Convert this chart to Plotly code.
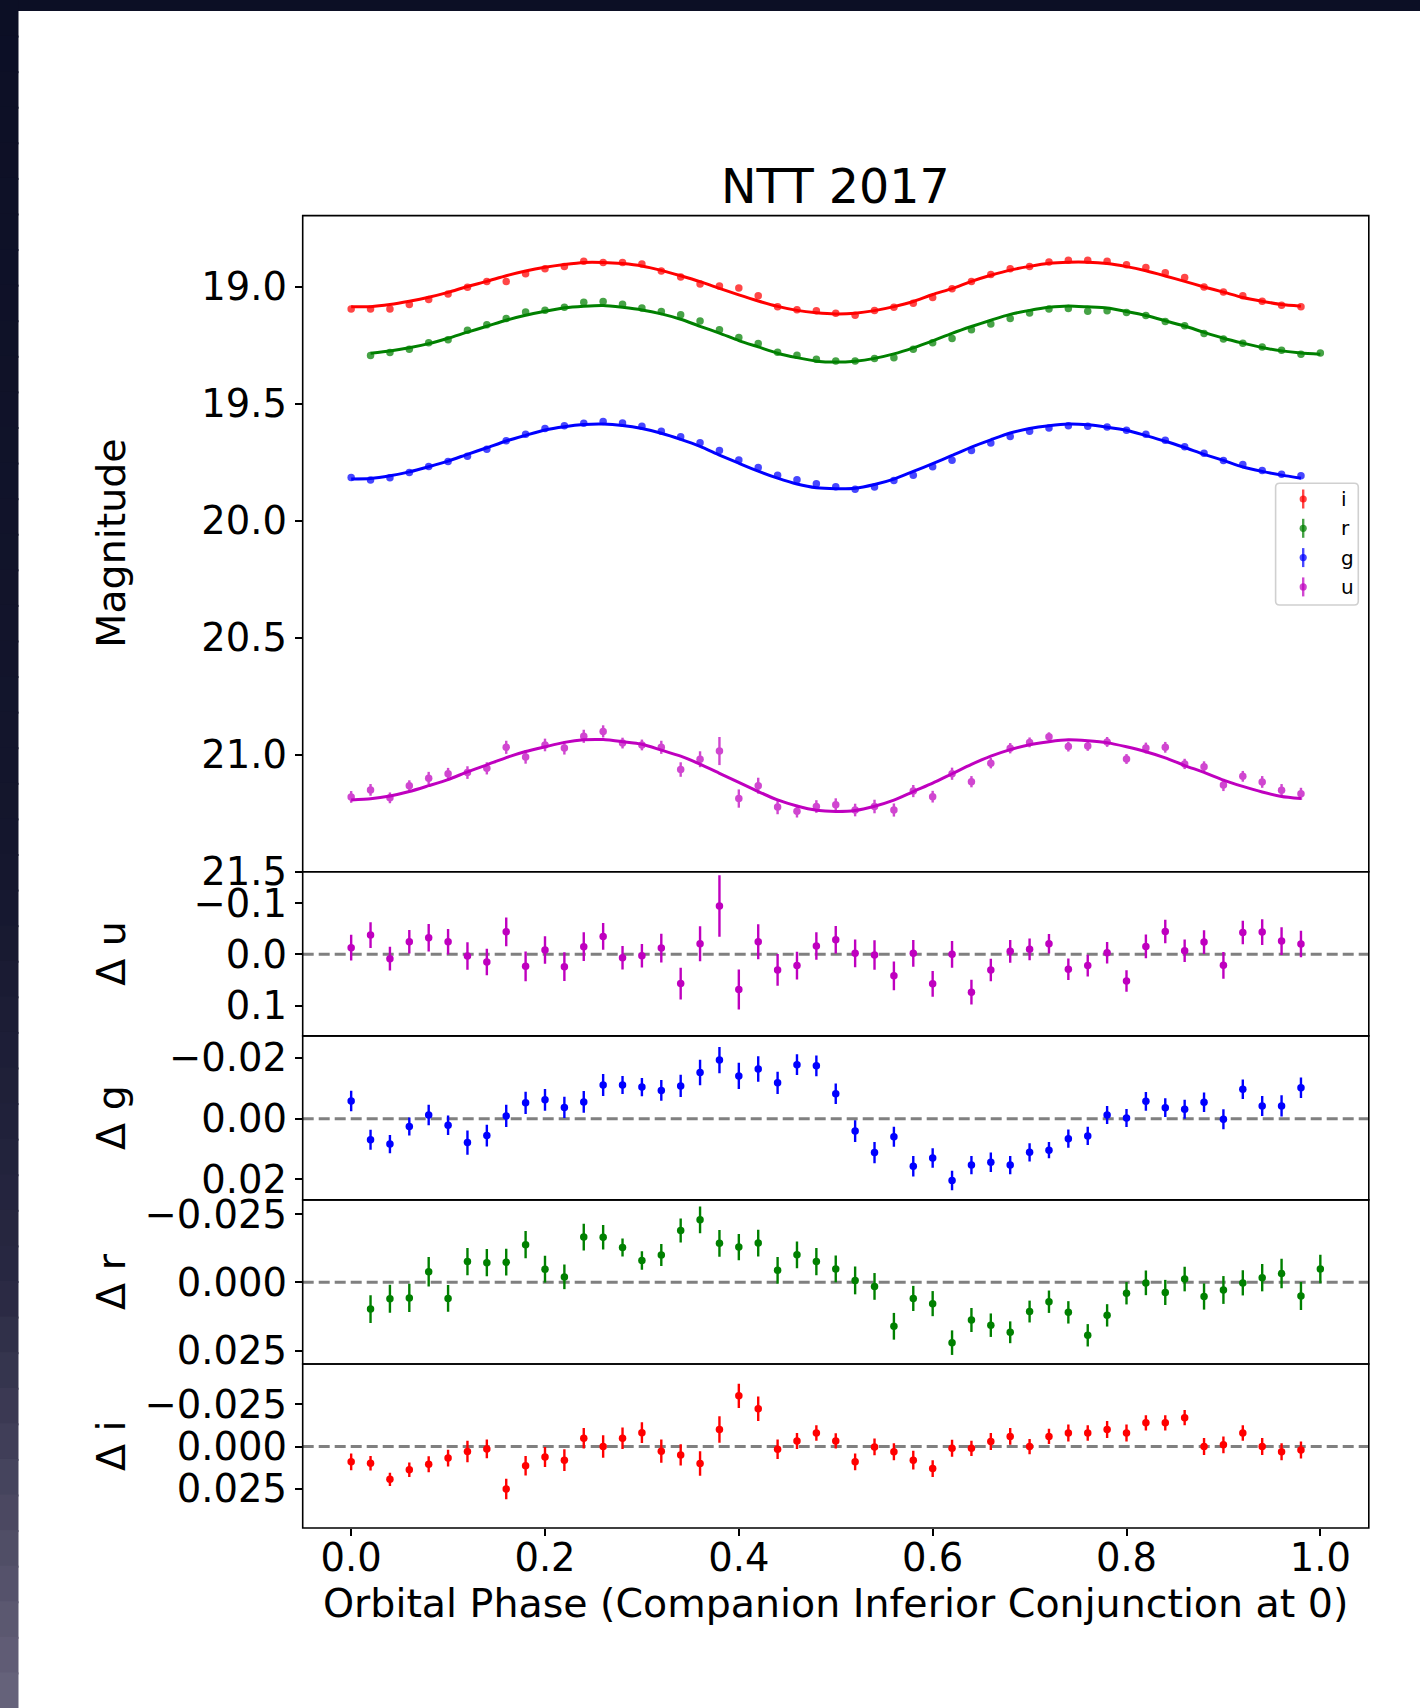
import plotly.graph_objects as go

W, H = 1420, 1708
FONT = "DejaVu Sans"

# ---------------------------------------------------------------- data
# orbital phase sampling (i, g, u bands)
phase = [0.00, 0.02, 0.04, 0.06, 0.08, 0.10, 0.12, 0.14, 0.16, 0.18,
         0.20, 0.22, 0.24, 0.26, 0.28, 0.30, 0.32, 0.34, 0.36, 0.38,
         0.40, 0.42, 0.44, 0.46, 0.48, 0.50, 0.52, 0.54, 0.56, 0.58,
         0.60, 0.62, 0.64, 0.66, 0.68, 0.70, 0.72, 0.74, 0.76, 0.78,
         0.80, 0.82, 0.84, 0.86, 0.88, 0.90, 0.92, 0.94, 0.96, 0.98]
# r band phase sampling
phase_r = [0.02, 0.04, 0.06, 0.08, 0.10, 0.12, 0.14, 0.16, 0.18, 0.20,
           0.22, 0.24, 0.26, 0.28, 0.30, 0.32, 0.34, 0.36, 0.38, 0.40,
           0.42, 0.44, 0.46, 0.48, 0.50, 0.52, 0.54, 0.56, 0.58, 0.60,
           0.62, 0.64, 0.66, 0.68, 0.70, 0.72, 0.74, 0.76, 0.78, 0.80,
           0.82, 0.84, 0.86, 0.88, 0.90, 0.92, 0.94, 0.96, 0.98, 1.00]

# i band
mag_i = [19.095, 19.095, 19.095, 19.076, 19.055, 19.031, 19.002, 18.978, 18.978, 18.944,
         18.923, 18.913, 18.891, 18.896, 18.896, 18.903, 18.933, 18.958, 18.988, 18.997,
         19.005, 19.039, 19.086, 19.098, 19.103, 19.113, 19.122, 19.102, 19.088, 19.071,
         19.046, 19.009, 18.978, 18.948, 18.923, 18.913, 18.894, 18.887, 18.887, 18.891,
         18.906, 18.918, 18.940, 18.960, 19.001, 19.022, 19.038, 19.062, 19.079, 19.085]
err_i = [0.0049, 0.0043, 0.0039, 0.0043, 0.0047, 0.0049, 0.0064, 0.0055, 0.0061, 0.0057,
         0.0059, 0.0064, 0.0061, 0.0066, 0.0064, 0.0061, 0.0068, 0.0063, 0.0072, 0.0078,
         0.0072, 0.0072, 0.0057, 0.0047, 0.0045, 0.0045, 0.0049, 0.0049, 0.0050, 0.0055,
         0.0050, 0.0050, 0.0045, 0.0050, 0.0050, 0.0045, 0.0045, 0.0050, 0.0045, 0.0050,
         0.0050, 0.0045, 0.0045, 0.0045, 0.0050, 0.0050, 0.0045, 0.0050, 0.0050, 0.0050]
fit_i = [19.086, 19.085, 19.076, 19.062, 19.045, 19.024, 18.999, 18.977, 18.953, 18.933,
         18.917, 18.905, 18.896, 18.896, 18.901, 18.911, 18.930, 18.953, 18.978, 19.007,
         19.035, 19.061, 19.084, 19.101, 19.111, 19.116, 19.113, 19.102, 19.085, 19.063,
         19.033, 19.008, 18.977, 18.951, 18.929, 18.913, 18.900, 18.895, 18.895, 18.901,
         18.914, 18.932, 18.954, 18.977, 19.001, 19.023, 19.046, 19.062, 19.076, 19.083]
res_i = [0.0090, 0.0098, 0.0193, 0.0137, 0.0104, 0.0068, 0.0029, 0.0014, 0.0250, 0.0113,
         0.0061, 0.0080, -0.0049, 0.0000, -0.0049, -0.0082, 0.0027, 0.0049, 0.0100, -0.0100,
         -0.0299, -0.0223, 0.0016, -0.0033, -0.0080, -0.0033, 0.0090, 0.0002, 0.0030, 0.0080,
         0.0130, 0.0010, 0.0010, -0.0030, -0.0060, 0.0000, -0.0060, -0.0080, -0.0080, -0.0100,
         -0.0080, -0.0140, -0.0140, -0.0170, 0.0000, -0.0010, -0.0080, 0.0000, 0.0030, 0.0020]

# r band
mag_r = [19.294, 19.281, 19.267, 19.239, 19.226, 19.186, 19.162, 19.136, 19.108, 19.100,
         19.088, 19.066, 19.063, 19.075, 19.091, 19.106, 19.120, 19.146, 19.184, 19.217,
         19.243, 19.280, 19.293, 19.310, 19.317, 19.317, 19.307, 19.303, 19.267, 19.239,
         19.221, 19.184, 19.159, 19.136, 19.112, 19.095, 19.093, 19.105, 19.103, 19.110,
         19.123, 19.149, 19.167, 19.200, 19.223, 19.241, 19.258, 19.271, 19.288, 19.283]
err_r = [0.0051, 0.0051, 0.0052, 0.0054, 0.0049, 0.0050, 0.0050, 0.0049, 0.0050, 0.0049,
         0.0045, 0.0049, 0.0045, 0.0033, 0.0034, 0.0040, 0.0044, 0.0049, 0.0049, 0.0048,
         0.0049, 0.0049, 0.0049, 0.0050, 0.0049, 0.0051, 0.0049, 0.0049, 0.0046, 0.0046,
         0.0045, 0.0044, 0.0043, 0.0040, 0.0040, 0.0041, 0.0041, 0.0041, 0.0041, 0.0041,
         0.0045, 0.0046, 0.0045, 0.0048, 0.0051, 0.0046, 0.0050, 0.0054, 0.0051, 0.0052]
fit_r = [19.284, 19.275, 19.261, 19.243, 19.220, 19.194, 19.169, 19.143, 19.122, 19.105,
         19.090, 19.083, 19.080, 19.088, 19.099, 19.116, 19.139, 19.169, 19.198, 19.230,
         19.257, 19.284, 19.303, 19.318, 19.322, 19.318, 19.306, 19.287, 19.261, 19.231,
         19.199, 19.170, 19.143, 19.118, 19.101, 19.088, 19.082, 19.086, 19.091, 19.106,
         19.123, 19.145, 19.168, 19.195, 19.220, 19.241, 19.260, 19.274, 19.283, 19.288]
res_r = [0.0098, 0.0060, 0.0057, -0.0039, 0.0059, -0.0076, -0.0072, -0.0074, -0.0138, -0.0048,
         -0.0020, -0.0166, -0.0165, -0.0128, -0.0080, -0.0100, -0.0190, -0.0229, -0.0143, -0.0129,
         -0.0144, -0.0044, -0.0101, -0.0076, -0.0049, -0.0007, 0.0015, 0.0161, 0.0059, 0.0078,
         0.0221, 0.0138, 0.0157, 0.0183, 0.0107, 0.0071, 0.0110, 0.0194, 0.0121, 0.0040,
         0.0002, 0.0037, -0.0012, 0.0052, 0.0028, 0.0002, -0.0017, -0.0032, 0.0050, -0.0049]

# g band
mag_g = [19.815, 19.826, 19.816, 19.794, 19.768, 19.747, 19.724, 19.694, 19.658, 19.630,
         19.606, 19.594, 19.583, 19.576, 19.582, 19.596, 19.617, 19.641, 19.667, 19.700,
         19.740, 19.772, 19.806, 19.825, 19.842, 19.855, 19.865, 19.856, 19.828, 19.805,
         19.769, 19.741, 19.700, 19.668, 19.640, 19.617, 19.604, 19.594, 19.596, 19.599,
         19.613, 19.630, 19.656, 19.684, 19.711, 19.742, 19.760, 19.785, 19.801, 19.808]
err_g = [0.0034, 0.0033, 0.0030, 0.0030, 0.0034, 0.0032, 0.0040, 0.0036, 0.0037, 0.0037,
         0.0036, 0.0035, 0.0036, 0.0036, 0.0030, 0.0030, 0.0034, 0.0037, 0.0042, 0.0043,
         0.0043, 0.0042, 0.0037, 0.0034, 0.0034, 0.0034, 0.0036, 0.0035, 0.0033, 0.0034,
         0.0032, 0.0032, 0.0030, 0.0032, 0.0030, 0.0030, 0.0027, 0.0030, 0.0030, 0.0030,
         0.0030, 0.0031, 0.0031, 0.0031, 0.0032, 0.0033, 0.0032, 0.0033, 0.0035, 0.0034]
fit_g = [19.821, 19.819, 19.808, 19.791, 19.769, 19.745, 19.716, 19.688, 19.659, 19.635,
         19.612, 19.598, 19.589, 19.587, 19.593, 19.606, 19.626, 19.652, 19.682, 19.719,
         19.754, 19.788, 19.818, 19.843, 19.859, 19.863, 19.861, 19.845, 19.822, 19.789,
         19.756, 19.721, 19.685, 19.654, 19.625, 19.606, 19.594, 19.587, 19.590, 19.600,
         19.613, 19.636, 19.660, 19.687, 19.716, 19.742, 19.770, 19.789, 19.805, 19.818]
res_g = [-0.0058, 0.0070, 0.0084, 0.0026, -0.0012, 0.0022, 0.0079, 0.0056, -0.0009, -0.0052,
         -0.0062, -0.0037, -0.0055, -0.0111, -0.0111, -0.0104, -0.0093, -0.0108, -0.0152, -0.0193,
         -0.0141, -0.0164, -0.0118, -0.0178, -0.0174, -0.0082, 0.0041, 0.0112, 0.0060, 0.0157,
         0.0130, 0.0204, 0.0153, 0.0144, 0.0153, 0.0111, 0.0104, 0.0066, 0.0057, -0.0012,
         -0.0002, -0.0057, -0.0036, -0.0031, -0.0054, 0.0002, -0.0097, -0.0042, -0.0042, -0.0102]

# u band
mag_u = [21.180, 21.150, 21.184, 21.132, 21.100, 21.081, 21.076, 21.058, 20.968, 21.009,
         20.958, 20.971, 20.921, 20.900, 20.950, 20.958, 20.968, 21.063, 21.019, 20.984,
         21.187, 21.132, 21.223, 21.241, 21.221, 21.213, 21.236, 21.221, 21.236, 21.155,
         21.179, 21.081, 21.115, 21.036, 20.972, 20.947, 20.923, 20.965, 20.962, 20.945,
         21.018, 20.971, 20.968, 21.039, 21.051, 21.129, 21.092, 21.116, 21.152, 21.167]
err_u = [0.025, 0.025, 0.023, 0.023, 0.027, 0.025, 0.027, 0.026, 0.028, 0.029,
         0.027, 0.028, 0.028, 0.026, 0.023, 0.023, 0.028, 0.031, 0.034, 0.060,
         0.039, 0.034, 0.031, 0.027, 0.027, 0.027, 0.027, 0.029, 0.028, 0.026,
         0.025, 0.026, 0.024, 0.022, 0.022, 0.021, 0.019, 0.021, 0.021, 0.021,
         0.021, 0.023, 0.023, 0.022, 0.023, 0.026, 0.023, 0.025, 0.027, 0.026]
fit_u = [21.193, 21.188, 21.176, 21.157, 21.132, 21.106, 21.073, 21.043, 21.012, 20.986,
         20.966, 20.947, 20.936, 20.935, 20.944, 20.955, 20.980, 21.006, 21.040, 21.079,
         21.118, 21.157, 21.193, 21.219, 21.237, 21.242, 21.238, 21.220, 21.194, 21.157,
         21.121, 21.081, 21.041, 21.006, 20.978, 20.957, 20.944, 20.936, 20.940, 20.948,
         20.966, 20.987, 21.013, 21.046, 21.075, 21.108, 21.135, 21.159, 21.178, 21.187]
res_u = [-0.0130, -0.0375, 0.0084, -0.0246, -0.0324, -0.0246, 0.0032, 0.0149, -0.0440, 0.0233,
         -0.0084, 0.0240, -0.0149, -0.0350, 0.0065, 0.0026, -0.0123, 0.0570, -0.0207, -0.0945,
         0.0686, -0.0246, 0.0304, 0.0220, -0.0162, -0.0285, -0.0019, 0.0013, 0.0420, -0.0019,
         0.0576, 0.0000, 0.0738, 0.0304, -0.0058, -0.0097, -0.0207, 0.0291, 0.0220, -0.0032,
         0.0518, -0.0155, -0.0447, -0.0071, -0.0239, 0.0214, -0.0427, -0.0434, -0.0259, -0.0201]

# tick labels
x_ticks = [0.0, 0.2, 0.4, 0.6, 0.8, 1.0]
x_tick_text = ["0.0", "0.2", "0.4", "0.6", "0.8", "1.0"]
mag_ticks = [19.0, 19.5, 20.0, 20.5, 21.0, 21.5]
mag_tick_text = ["19.0", "19.5", "20.0", "20.5", "21.0", "21.5"]
du_ticks = [-0.1, 0.0, 0.1]
du_tick_text = ["\u22120.1", "0.0", "0.1"]
dg_ticks = [-0.02, 0.0, 0.02]
dg_tick_text = ["\u22120.02", "0.00", "0.02"]
dr_ticks = [-0.025, 0.0, 0.025]
dr_tick_text = ["\u22120.025", "0.000", "0.025"]
di_ticks = [-0.025, 0.0, 0.025]
di_tick_text = ["\u22120.025", "0.000", "0.025"]

# ---------------------------------------------------------------- styling
C_I, C_R, C_G, C_U = "#ff0000", "#008000", "#0000ff", "#bf00bf"
PT_ALPHA = 0.72


def fx(px):
    """pixel column -> paper x"""
    return px / W


def fy(py):
    """pixel row (from top) -> paper y"""
    return 1 - py / H


X_LEFT, X_RIGHT = 302.7, 1368.8
EDGES = [215.6, 871.8, 1035.85, 1199.9, 1363.95, 1528.0]
Y_RANGES = [[21.5, 18.696], [0.159, -0.161], [0.0268, -0.0273],
            [0.0299, -0.0302], [0.048, -0.0487]]
Y_TICKS = [(mag_ticks, mag_tick_text), (du_ticks, du_tick_text),
           (dg_ticks, dg_tick_text), (dr_ticks, dr_tick_text),
           (di_ticks, di_tick_text)]

TICK_FONT = dict(family=FONT, size=38.5, color="black")
LABEL_SIZE = 39.5

layout = dict(
    width=W, height=H, template="none",
    margin=dict(l=0, r=0, t=0, b=0),
    paper_bgcolor="white", plot_bgcolor="white",
    showlegend=False,
    font=dict(family=FONT, color="black", size=38.5),
)

for k in range(5):
    s = "" if k == 0 else str(k + 1)
    xa = dict(domain=[fx(X_LEFT), fx(X_RIGHT)], range=[-0.05, 1.05],
              anchor="y" + s, showline=False, showgrid=False, zeroline=False,
              ticks="outside" if k == 4 else "", ticklen=7, tickwidth=1.6,
              tickcolor="black", showticklabels=(k == 4),
              ticklabelstandoff=-11,
              tickvals=x_ticks, ticktext=x_tick_text, tickfont=TICK_FONT,
              automargin=False)
    if k > 0:
        xa["matches"] = "x"
    layout["xaxis" + s] = xa
    tv, tt = Y_TICKS[k]
    layout["yaxis" + s] = dict(
        domain=[fy(EDGES[k + 1]), fy(EDGES[k])], range=Y_RANGES[k],
        anchor="x" + s, showline=False, showgrid=False, zeroline=False,
        ticks="outside", ticklen=7, tickwidth=1.6, tickcolor="black",
        tickvals=tv, ticktext=tt, tickfont=TICK_FONT, automargin=False)

fig = go.Figure(layout=layout)

# ---------------------------------------------------------------- light curves
bands = [
    ("i", phase, mag_i, err_i, fit_i, res_i, C_I, "5"),
    ("r", phase_r, mag_r, err_r, fit_r, res_r, C_R, "4"),
    ("g", phase, mag_g, err_g, fit_g, res_g, C_G, "3"),
    ("u", phase, mag_u, err_u, fit_u, res_u, C_U, "2"),
]

for name, ph, mag, err, fit, res, col, ax in bands:
    fig.add_trace(go.Scatter(
        x=ph, y=mag, mode="markers", name=name, opacity=PT_ALPHA,
        marker=dict(color=col, size=7.5),
        error_y=dict(type="data", array=err, thickness=2.4, width=0, color=col),
        xaxis="x", yaxis="y", hoverinfo="skip"))

for name, ph, mag, err, fit, res, col, ax in bands:
    fig.add_trace(go.Scatter(
        x=ph, y=fit, mode="lines", name=name + " fit",
        line=dict(color=col, width=3, shape="spline", smoothing=0.6),
        xaxis="x", yaxis="y", hoverinfo="skip"))

# residual panels
for name, ph, mag, err, fit, res, col, ax in bands:
    fig.add_shape(type="line", xref="x" + ax + " domain", yref="y" + ax,
                  x0=0, x1=1, y0=0, y1=0, layer="below",
                  line=dict(color="#808080", width=3, dash="11px,5px"))
    fig.add_trace(go.Scatter(
        x=ph, y=res, mode="markers", name="\u0394 " + name,
        marker=dict(color=col, size=7.5),
        error_y=dict(type="data", array=err, thickness=2.4, width=0, color=col),
        xaxis="x" + ax, yaxis="y" + ax, hoverinfo="skip"))

# panel frames (shared edges coincide, as with stacked axes)
for k in range(5):
    s = "" if k == 0 else str(k + 1)
    fig.add_shape(type="rect", xref="x" + s + " domain", yref="y" + s + " domain",
                  x0=0, x1=1, y0=0, y1=1, layer="above",
                  line=dict(color="black", width=1.6), fillcolor="rgba(0,0,0,0)")

# ---------------------------------------------------------------- legend box
LX0, LX1, LY0, LY1, LR = 1275.6, 1358.3, 483.3, 605.0, 4.0
legend_path = (
    f"M {fx(LX0 + LR)},{fy(LY0)} L {fx(LX1 - LR)},{fy(LY0)} "
    f"Q {fx(LX1)},{fy(LY0)} {fx(LX1)},{fy(LY0 + LR)} "
    f"L {fx(LX1)},{fy(LY1 - LR)} Q {fx(LX1)},{fy(LY1)} {fx(LX1 - LR)},{fy(LY1)} "
    f"L {fx(LX0 + LR)},{fy(LY1)} Q {fx(LX0)},{fy(LY1)} {fx(LX0)},{fy(LY1 - LR)} "
    f"L {fx(LX0)},{fy(LY0 + LR)} Q {fx(LX0)},{fy(LY0)} {fx(LX0 + LR)},{fy(LY0)} Z")
fig.add_shape(type="path", path=legend_path, xref="paper", yref="paper",
              fillcolor="rgba(255,255,255,0.8)",
              line=dict(color="#d0d0d0", width=1.6), layer="above")

legend_rgba = {"i": "rgba(255,0,0,0.72)", "r": "rgba(0,128,0,0.72)",
               "g": "rgba(0,0,255,0.72)", "u": "rgba(191,0,191,0.72)"}
GX, TX, Y0, DY = 1303.2, 1339.0, 499.0, 29.3
for k, (name, *_rest) in enumerate(bands):
    yc = Y0 + DY * k
    c = legend_rgba[name]
    fig.add_shape(type="line", xref="paper", yref="paper",
                  x0=fx(GX), x1=fx(GX), y0=fy(yc - 9.5), y1=fy(yc + 9.5),
                  line=dict(color=c, width=2.4), layer="above")
    fig.add_shape(type="circle", xref="paper", yref="paper",
                  x0=fx(GX - 3.6), x1=fx(GX + 3.6), y0=fy(yc - 3.6), y1=fy(yc + 3.6),
                  fillcolor=c, line=dict(width=0), layer="above")
    fig.add_annotation(x=fx(TX), y=fy(yc), xref="paper", yref="paper",
                       text=name, showarrow=False, xanchor="left",
                       yanchor="middle", font=dict(family=FONT, size=20, color="black"))

# ---------------------------------------------------------------- titles
XC = (X_LEFT + X_RIGHT) / 2
fig.add_annotation(x=fx(XC), y=fy(187), xref="paper", yref="paper",
                   text="NTT 2017", showarrow=False, xanchor="center",
                   yanchor="middle", font=dict(family=FONT, size=47.5, color="black"))
fig.add_annotation(x=fx(XC), y=fy(1603), xref="paper", yref="paper",
                   text="Orbital Phase (Companion Inferior Conjunction at 0)",
                   showarrow=False, xanchor="center", yanchor="middle",
                   font=dict(family=FONT, size=LABEL_SIZE, color="black"))

y_titles = ["Magnitude", "\u0394 u", "\u0394 g", "\u0394 r", "\u0394 i"]
for k, t in enumerate(y_titles):
    yc = (EDGES[k] + EDGES[k + 1]) / 2
    fig.add_annotation(x=fx(111), y=fy(yc), xref="paper", yref="paper",
                       text=t, showarrow=False, textangle=-90,
                       xanchor="center", yanchor="middle",
                       font=dict(family=FONT, size=LABEL_SIZE, color="black"))

# ---------------------------------------------------------------- dark frame
fig.add_shape(type="rect", xref="paper", yref="paper", x0=0, x1=1,
              y0=fy(11), y1=1, fillcolor="#0c0f25", line=dict(width=0),
              layer="above")
stops = [(0.0, (12, 15, 37)), (0.5, (20, 22, 45)), (0.75, (40, 40, 66)),
         (1.0, (104, 100, 124))]
N = 48
for j in range(N):
    t = (j + 0.5) / N
    for (t0, c0), (t1, c1) in zip(stops[:-1], stops[1:]):
        if t0 <= t <= t1:
            f = (t - t0) / (t1 - t0)
            rgb = tuple(int(round(a + (b - a) * f)) for a, b in zip(c0, c1))
            break
    fig.add_shape(type="rect", xref="paper", yref="paper", x0=0, x1=fx(18.5),
                  y0=fy(min(H, H * (j + 1) / N + 2.0)), y1=fy(H * j / N),
                  fillcolor="rgb(%d,%d,%d)" % rgb, line=dict(width=0),
                  layer="above")

fig.write_html("out.html")
